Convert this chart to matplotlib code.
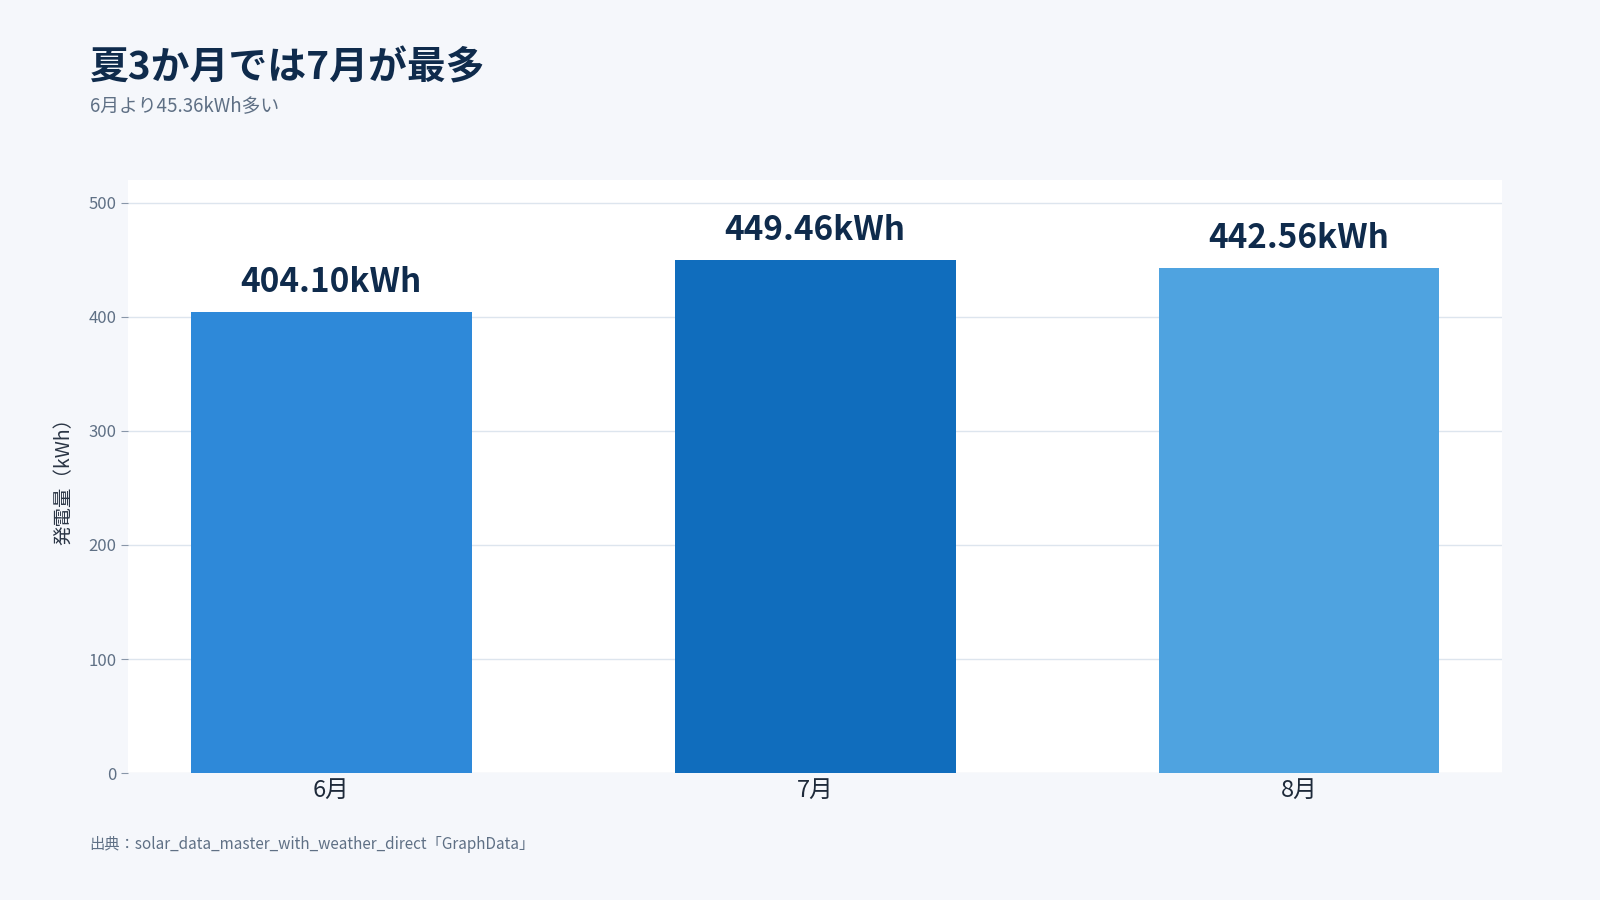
import matplotlib
matplotlib.use("Agg")
import matplotlib.pyplot as plt

plt.rcParams['font.family'] = ['Noto Sans CJK JP', 'DejaVu Sans']

months = ["6月", "7月", "8月"]
values = [404.10, 449.46, 442.56]
colors = ["#2E89D9", "#106DBD", "#4FA3E0"]
yticks = [0, 100, 200, 300, 400, 500]

fig = plt.figure(figsize=(16, 9), dpi=100, facecolor="#F5F7FB")
ax = fig.add_axes([0.08, 0.141, 0.859, 0.659])
ax.set_facecolor("white")
x = range(len(months))
bars = ax.bar(x, values, width=0.58, color=colors, zorder=3)
for xi, v in zip(x, values):
    ax.text(xi, v + 12, f"{v:.2f}kWh", ha="center", va="bottom",
            fontsize=24, fontweight="bold", color="#0F2B4C")
ax.set_xlim(-0.42, 2.42)
ax.set_ylim(0, 520)
ax.set_yticks(yticks)
ax.set_xticks(list(x))
ax.set_xticklabels(months, fontsize=17, color="#1E2A3A")
ax.tick_params(axis="y", labelsize=12, colors="#5F7085", length=5, color="#8896A8")
ax.tick_params(axis="x", length=0, pad=4)
ax.grid(axis="y", color="#DDE5EE", linewidth=1, zorder=0)
for s in ax.spines.values():
    s.set_visible(False)
ax.set_ylabel("発電量（kWh）", fontsize=14, color="#2A3545", labelpad=10)

fig.text(0.056, 0.925, "夏3か月では7月が最多", fontsize=28, fontweight="bold",
         color="#0F2B4C", ha="left", va="center")
fig.text(0.056, 0.883, "6月より45.36kWh多い", fontsize=13.5, color="#5F7085",
         ha="left", va="center")
fig.text(0.056, 0.062, "出典：solar_data_master_with_weather_direct「GraphData」",
         fontsize=11, color="#5F7085", ha="left", va="center")

fig.savefig("out.png", dpi=100, facecolor=fig.get_facecolor())
